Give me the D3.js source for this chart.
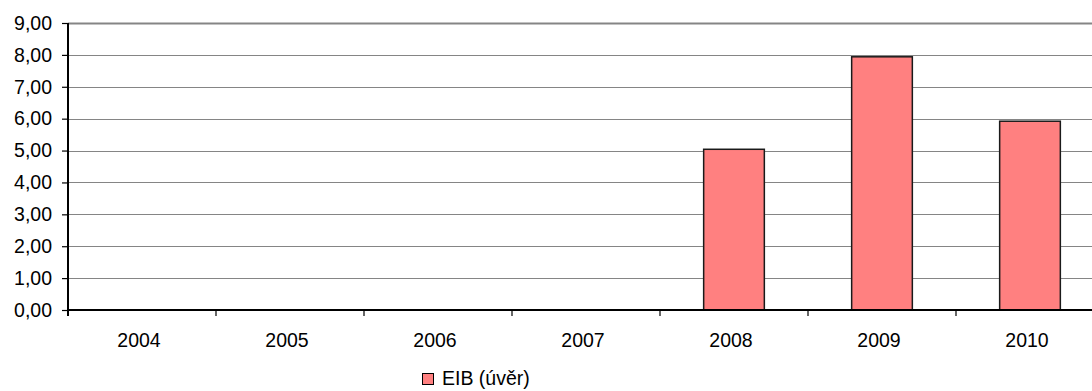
<!DOCTYPE html>
<html>
<head>
<meta charset="utf-8">
<script src="https://cdn.jsdelivr.net/npm/d3@7"></script>
<style>
  html, body { margin: 0; padding: 0; background: #fff; }
  svg { display: block; }
  text { font-family: Arial, "Liberation Sans", sans-serif; fill: #000; }
</style>
</head>
<body>
<svg id="chart" width="1092" height="391"></svg>
<script>
// EIB loan drawdowns by year
const years = ["2004", "2005", "2006", "2007", "2008", "2009", "2010"];
const loanValues = [0, 0, 0, 0, 5.04, 7.94, 5.92];
const yTicks = [0, 1, 2, 3, 4, 5, 6, 7, 8, 9];
const seriesName = "EIB (úvěr)";

const fmt = v => v.toFixed(2).replace(".", ",");
const fontSize = "19.5px";

const svg = d3.select("#chart");
const plotLeft = 68, plotTop = 23, plotBottom = 310;
const band = 148;
const plotRight = plotLeft + band * years.length;

const x = d3.scaleBand().domain(years).range([plotLeft, plotRight]).paddingInner(0.59).paddingOuter(0.295);
const y = d3.scaleLinear().domain([0, 9]).range([plotBottom, plotTop]);

// horizontal gridlines
svg.append("g")
  .selectAll("line")
  .data(yTicks.filter(t => t > 0))
  .join("line")
  .attr("x1", plotLeft).attr("x2", plotRight)
  .attr("y1", d => Math.round(y(d)) + 0.5).attr("y2", d => Math.round(y(d)) + 0.5)
  .attr("stroke", "#858585")
  .attr("stroke-width", d => d === 9 ? 1.8 : 1);

// bars
svg.append("g")
  .selectAll("rect")
  .data(years.map((yr, i) => ({ yr, v: loanValues[i] })).filter(d => d.v > 0))
  .join("rect")
  .attr("x", d => x(d.yr))
  .attr("y", d => y(d.v))
  .attr("width", x.bandwidth())
  .attr("height", d => plotBottom - y(d.v))
  .attr("fill", "#ff8080")
  .attr("stroke", "#1a1a1a")
  .attr("stroke-width", 1.5);

// y axis
const yAxis = d3.axisLeft(y).tickValues(yTicks).tickFormat(fmt).tickSize(6).tickPadding(10);
const gy = svg.append("g").attr("transform", `translate(${plotLeft},0)`).call(yAxis);
gy.select(".domain").attr("d", `M0,${plotTop}V${plotBottom + 6}`).attr("stroke", "#000").attr("stroke-width", 2);
gy.selectAll(".tick line").attr("stroke", "#000").attr("stroke-width", 1.2);
gy.selectAll(".tick text").style("font-size", fontSize).attr("fill", "#000");

// x axis with ticks at category boundaries
const gx = svg.append("g").attr("transform", `translate(0,${plotBottom})`);
gx.append("line").attr("x1", plotLeft).attr("x2", plotRight).attr("y1", 0).attr("y2", 0)
  .attr("stroke", "#000").attr("stroke-width", 2);
gx.selectAll(".bnd")
  .data(years)
  .join("line")
  .attr("class", "bnd")
  .attr("x1", (d, i) => plotLeft + band * (i + 1)).attr("x2", (d, i) => plotLeft + band * (i + 1))
  .attr("y1", 0).attr("y2", 6)
  .attr("stroke", "#000").attr("stroke-width", 1.2);
gx.selectAll(".lbl")
  .data(years)
  .join("text")
  .attr("class", "lbl")
  .attr("x", d => x(d) + x.bandwidth() / 2 - 3)
  .attr("y", 37)
  .attr("text-anchor", "middle")
  .style("font-size", fontSize)
  .text(d => d);

// legend
const lg = svg.append("g").attr("transform", "translate(422,373)");
lg.append("rect").attr("x", 0.5).attr("y", 0.5).attr("width", 11).attr("height", 11)
  .attr("fill", "#ff8080").attr("stroke", "#000").attr("stroke-width", 1);
lg.append("text").attr("x", 20).attr("y", 12).style("font-size", fontSize).text(seriesName);
</script>
</body>
</html>
